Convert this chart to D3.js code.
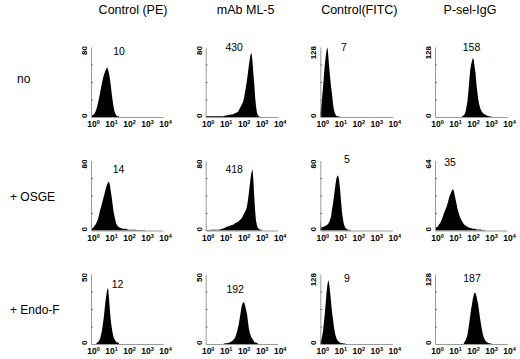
<!DOCTYPE html>
<html>
<head>
<meta charset="utf-8">
<script src="https://cdn.jsdelivr.net/npm/d3@7"></script>
<style>
  body { margin: 0; background: #fff; }
  text { font-family: 'Liberation Sans', Arial, sans-serif; fill: #000; }
</style>
</head>
<body>
<div id="chart"></div>
<script>
// column / row headings
const columns = ['Control (PE)', 'mAb ML-5', 'Control(FITC)', 'P-sel-IgG']
const rows = ['no', '+ OSGE', '+ Endo-F']

// y-axis maximum (events) for every panel, row by row
const yMax = [
  [80, 80, 128, 128],
  [80, 80, 80, 64],
  [50, 50, 128, 128],
]

// mean fluorescence numbers printed in each panel
const mfi = [
  [10, 430, 7, 158],
  [14, 418, 5, 35],
  [12, 192, 9, 187],
]

// decade ticks of the log fluorescence axis
const decades = [0, 1, 2, 3, 4]

// histogram counts, bins every 0.05 decade, first bin at histFrom (log10)
const binStep = 0.05
const histFrom = [
  [0, 0, 0, 1.5],
  [0, 0, 0, 0],
  [0.3, 1.0, 0, 1.6],
]

const noPE = [2, 2, 2, 3, 4, 6, 9, 13, 17, 22, 27, 33, 38, 43, 47, 50, 53, 55, 57, 54, 50, 44, 36, 27, 19, 12, 7, 4, 2, 1, 1, 0.5]
const noML5 = [1, 1, 1, 1, 1, 1, 1, 1, 1, 1, 1, 1, 1, 1, 1, 1, 1, 1, 1, 1, 1, 1.5, 1.5, 2, 2, 2, 2.5, 2.5, 3, 3, 3, 3.5, 4, 4.5, 5, 5.5, 6, 8, 10, 12, 14, 16, 19, 24, 30, 36, 43, 51, 59, 66, 72, 73, 64, 50, 38, 22, 12, 5, 2, 1, 0.5]
const noFITC = [6, 19, 36, 54, 77, 96, 111, 123, 127, 109, 88, 70, 54, 42, 26, 14, 8, 4, 2, 1.5, 1, 1, 0.5]
const noPsel = [1, 2, 3, 5, 10, 19, 28, 45, 64, 84, 95, 102, 108, 105, 92, 81, 61, 46, 33, 24, 18, 13, 10, 8, 6, 5, 4, 3, 2.5, 2, 1.5, 1, 1, 0.5]

const osgePE = [4, 2, 3, 4, 5.5, 7, 9, 11, 14, 18, 23, 26, 30, 34, 38, 42, 46, 50, 53, 55, 56, 52, 45, 38, 30, 22, 17, 12, 8, 6, 5, 4, 3.5, 3, 2.5, 2, 2, 2, 2, 2, 1.5, 1, 1, 1, 1, 1, 1, 1, 1, 1, 1, 0.5, 0.5, 0.5, 0.5, 0.5, 0.5, 0.5, 0.5, 0.5, 0.5]
const osgeML5 = [0.5, 0.5, 0.5, 0.5, 0.5, 0.5, 1, 1, 1, 1, 1, 1, 1, 1, 1, 1, 1.5, 1.5, 2, 2, 2.5, 3, 3.5, 4, 4.5, 5, 5, 5.5, 6, 6, 6.5, 7, 8, 8.5, 9, 9.5, 10, 11, 12, 13, 14, 16, 18, 20, 22, 24, 28, 35, 43, 52, 61, 67, 70, 58, 38, 22, 11, 6, 3, 2, 1.5, 1, 1, 0.5]
const osgeFITC = [13, 3, 4, 4, 4.5, 5, 5.5, 6, 7, 8, 10, 13, 17, 24, 30, 38, 46, 54, 60, 63, 62, 57, 46, 34, 22, 14, 8, 5, 3, 2, 1.5, 1, 1, 0.5, 0.5]
const osgePsel = [45, 3, 3, 3.5, 5, 6, 7, 9, 11, 13.5, 16, 18, 20, 22, 25, 28, 31, 33, 35, 37, 38, 36, 32, 28, 24, 20, 17, 14, 12, 10, 8.5, 7, 6, 5, 4.5, 4, 3.5, 3, 2.5, 2.5, 2, 2, 1.5, 1.5, 1.5, 1.5, 1, 1, 1, 1, 1, 1, 0.5, 0.5, 0.5, 0.5, 0.5]

const endoPE = [0.5, 1, 1.5, 2.5, 3.5, 6, 9, 13, 18, 24, 30, 35, 39, 40, 33, 24, 17, 12, 8, 5, 3.5, 2.5, 1.5, 1, 1, 0.5]
const endoML5 = [0.3, 0.4, 0.5, 0.6, 0.7, 0.8, 1, 1.2, 1.5, 2, 2.5, 3, 4, 5, 7, 9, 12, 15, 19, 23, 27, 29, 30, 29.5, 27, 24, 21, 16, 11, 8, 6, 4.5, 3.5, 2.5, 1.5, 1, 1, 0.7, 0.5]
const endoFITC = [4, 8, 14, 24, 40, 56, 76, 96, 110, 117, 108, 93, 76, 58, 46, 33, 23, 15, 10, 7, 5, 3.5, 2.5, 2, 1.5, 1.2, 1, 0.7, 0.5]
const endoPsel = [2, 4, 7, 11, 17, 26, 38, 50, 62, 72, 82, 90, 94, 93, 88, 80, 72, 60, 48, 37, 28, 19, 13, 9, 6, 4, 3, 2, 1.5, 1.2, 1, 0.5]

const hists = [
  [noPE, noML5, noFITC, noPsel],
  [osgePE, osgeML5, osgeFITC, osgePsel],
  [endoPE, endoML5, endoFITC, endoPsel],
]

const render = () => {
  const width = 520
  const height = 359
  const panelW = 72
  const panelH = 70

  // where the printed number sits inside each panel (centre, px from panel corner)
  const labelPos = [
    [[28, 4.5], [28.5, 0], [23.5, 0], [36.5, 0]],
    [[27.5, 9], [28.5, 9], [26.5, -1], [15, 2]],
    [[26.5, 10], [29.5, 15], [26.5, 4], [37, 4]],
  ]
  const titleDx = [42, 40, 39, 35]
  const rowLabelX = [17, 10, 10]
  const rowLabelDy = [36, 40, 40]

  const svg = d3
    .select('#chart')
    .append('svg')
    .attr('width', width)
    .attr('height', height)

  const colScale = d3.scalePoint().domain(columns).range([91, 435])
  const rowScale = d3.scalePoint().domain(rows).range([47, 274])

  // column titles
  svg
    .selectAll('.col-title')
    .data(columns)
    .enter()
    .append('text')
    .attr('class', 'col-title')
    .attr('x', (d, i) => colScale(d) + titleDx[i])
    .attr('y', 14)
    .attr('text-anchor', 'middle')
    .style('font-size', '12.5px')
    .text((d) => d)

  // row labels
  svg
    .selectAll('.row-title')
    .data(rows)
    .enter()
    .append('text')
    .attr('class', 'row-title')
    .attr('x', (d, i) => rowLabelX[i])
    .attr('y', (d, i) => rowScale(d) + rowLabelDy[i])
    .style('font-size', '12px')
    .text((d) => d)

  const x = d3.scaleLog().domain([1, 1e4]).range([0, panelW])

  rows.forEach((rowName, r) => {
    columns.forEach((colName, c) => {
      const g = svg
        .append('g')
        .attr('transform', `translate(${colScale(colName)}, ${rowScale(rowName)})`)

      const y = d3.scaleLinear().domain([0, yMax[r][c]]).range([panelH, 0])

      const bins = hists[r][c].map((count, i) => ({
        value: Math.pow(10, histFrom[r][c] + i * binStep),
        count,
      }))

      const area = d3
        .area()
        .x((d) => x(d.value))
        .y0(panelH)
        .y1((d) => y(d.count))

      g.append('path').datum(bins).attr('d', area).attr('fill', '#000')

      // x axis with 10^n labels
      const xAxis = g
        .append('g')
        .attr('transform', `translate(0, ${panelH})`)
        .call(
          d3
            .axisBottom(x)
            .tickValues(decades.map((d) => Math.pow(10, d)))
            .tickSize(0)
            .tickSizeOuter(0)
            .tickPadding(3)
        )
      xAxis.select('.domain').attr('stroke', '#9a9a9a')
      xAxis.selectAll('.tick text').each(function (d) {
        const t = d3.select(this)
        t.text('').attr('dx', 2).attr('dy', '0.71em').attr('fill', '#000')
        t.append('tspan').style('font-size', '8.5px').style('font-weight', 'bold').text('10')
        t.append('tspan')
          .attr('dy', -3)
          .style('font-size', '5.5px')
          .style('font-weight', 'bold')
          .text(Math.round(Math.log10(d)))
      })

      // y axis: grey line with small inner ticks
      const yAxis = g.append('g').call(
        d3
          .axisRight(y)
          .tickValues([0.25, 0.5, 0.75].map((f) => f * yMax[r][c]))
          .tickSize(2)
          .tickSizeOuter(0)
          .tickFormat('')
      )
      yAxis.select('.domain').attr('stroke', '#9a9a9a')
      yAxis.selectAll('.tick line').attr('stroke', '#777')

      // rotated y labels
      g.append('text')
        .attr('transform', `translate(-4, -1) rotate(-90)`)
        .attr('text-anchor', 'end')
        .style('font-size', '8px')
        .style('font-weight', 'bold')
        .text(yMax[r][c])
      g.append('text')
        .attr('transform', `translate(-4, ${panelH + 1}) rotate(-90)`)
        .attr('text-anchor', 'start')
        .style('font-size', '8px')
        .style('font-weight', 'bold')
        .text(0)

      // mean fluorescence number
      g.append('text')
        .attr('x', labelPos[r][c][0])
        .attr('y', labelPos[r][c][1])
        .attr('dy', '0.35em')
        .attr('text-anchor', 'middle')
        .style('font-size', '10.5px')
        .text(mfi[r][c])
    })
  })
}

render()
</script>
</body>
</html>
